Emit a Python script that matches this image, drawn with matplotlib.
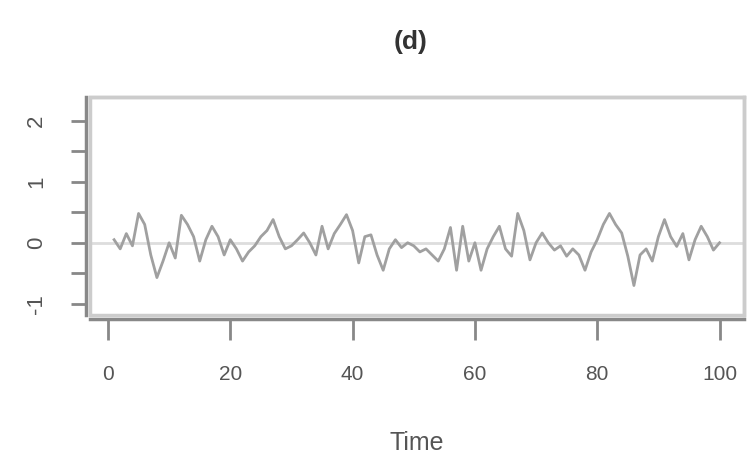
import numpy as np
import matplotlib.pyplot as plt
from matplotlib.patches import Rectangle

# series (d): 100 observations fluctuating around zero
time = np.arange(1, 101)
values = [
    0.05, -0.10, 0.15, -0.05, 0.48, 0.30, -0.20, -0.57, -0.30, 0.00,
    -0.25, 0.45, 0.30, 0.10, -0.30, 0.05, 0.27, 0.10, -0.20, 0.05,
    -0.10, -0.30, -0.15, -0.05, 0.10, 0.20, 0.38, 0.10, -0.10, -0.05,
    0.05, 0.16, 0.00, -0.20, 0.27, -0.10, 0.15, 0.30, 0.46, 0.20,
    -0.33, 0.10, 0.13, -0.20, -0.45, -0.10, 0.05, -0.08, 0.00, -0.05,
    -0.15, -0.10, -0.20, -0.30, -0.10, 0.25, -0.45, 0.27, -0.30, 0.00,
    -0.45, -0.10, 0.10, 0.27, -0.10, -0.22, 0.48, 0.20, -0.28, 0.00,
    0.16, 0.00, -0.12, -0.05, -0.22, -0.10, -0.20, -0.45, -0.15, 0.05,
    0.30, 0.48, 0.30, 0.16, -0.22, -0.70, -0.20, -0.10, -0.30, 0.10,
    0.38, 0.10, -0.06, 0.15, -0.28, 0.05, 0.27, 0.10, -0.12, 0.00,
]

x_ticks = [0, 20, 40, 60, 80, 100]
y_ticks = [-1, -0.5, 0, 0.5, 1, 1.5, 2]
y_labels = ["-1", "", "0", "", "1", "", "2"]

plt.rcParams["font.family"] = ["Liberation Sans", "DejaVu Sans"]

fig = plt.figure(figsize=(7.49, 4.63), dpi=100)
ax = fig.add_axes([0.120, 0.320, 0.873, 0.471])

ax.axhline(0, color="#dddddd", linewidth=2, zorder=1)
ax.plot(time, values, color="#a0a0a0", linewidth=2, zorder=2)

ax.set_xlim(-2.96, 103.96)
ax.set_ylim(-1.18, 2.39)

ax.set_xticks(x_ticks)
ax.set_yticks(y_ticks)
ax.set_yticklabels(y_labels)

for side in ["top", "right"]:
    ax.spines[side].set_color("#cccccc")
    ax.spines[side].set_linewidth(2.5)
for side in ["left", "bottom"]:
    ax.spines[side].set_color("#888888")
    ax.spines[side].set_linewidth(2.5)
    ax.spines[side].set_position(("outward", 3))

# light frame round the whole panel
ax.add_patch(Rectangle((0, 0), 1, 1, transform=ax.transAxes, fill=False,
                       edgecolor="#cccccc", linewidth=2.5, clip_on=False))

ax.tick_params(axis="x", length=15, width=2, color="#888888",
               labelcolor="#555555", labelsize=15, pad=18)
ax.tick_params(axis="y", length=11, width=2, color="#888888",
               labelcolor="#555555", labelsize=16, pad=17,
               labelrotation=90)
for lbl in ax.get_yticklabels():
    lbl.set_verticalalignment("center")

ax.set_xlabel("Time", fontsize=18, color="#555555", labelpad=34)
fig.text(0.548, 0.91, "(d)", fontsize=19, fontweight="bold",
         color="#333333", ha="center", va="center")

fig.savefig("out.png", dpi=100)
